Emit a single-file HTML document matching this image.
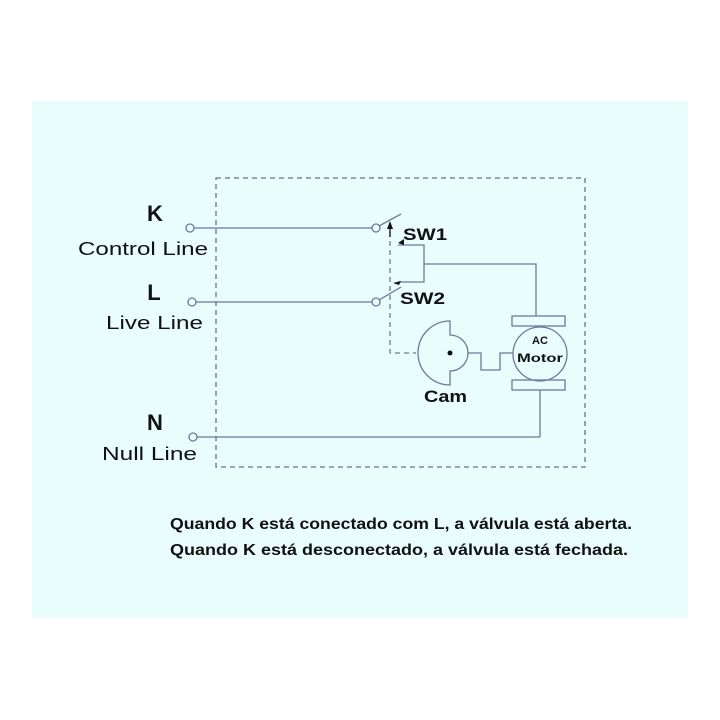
<!DOCTYPE html>
<html><head><style>
body{margin:0;background:#fff;width:720px;height:720px;overflow:hidden}
</style></head><body>
<svg width="720" height="720" xmlns="http://www.w3.org/2000/svg" style="position:absolute;left:0;top:0">
<rect x="32" y="101" width="656" height="517" fill="#e9fdfd"/>
<rect x="216" y="178" width="369" height="289" fill="none" stroke="#6a7090" stroke-width="1.3" stroke-dasharray="5,4"/>
<g stroke="#6a7aa0" stroke-width="1.3" fill="none">
<line x1="194" y1="228" x2="372" y2="228"/>
<circle cx="190" cy="228" r="4" fill="#e9fdfd"/>
<circle cx="376" cy="228" r="4" fill="#e9fdfd"/>
<line x1="379" y1="226" x2="401" y2="214"/>
<line x1="196" y1="302" x2="372" y2="302"/>
<circle cx="192" cy="302" r="4" fill="#e9fdfd"/>
<circle cx="376" cy="302" r="4" fill="#e9fdfd"/>
<line x1="379" y1="300" x2="401" y2="287"/>
<line x1="197" y1="437" x2="540" y2="437"/>
<circle cx="193" cy="437" r="4" fill="#e9fdfd"/>
<line x1="540" y1="390" x2="540" y2="437"/>
<polyline points="398,245 424,245 424,282 398,282"/>
<polyline points="424,264 536,264 536,316"/>
<polyline points="390,232 390,353 416,353" stroke-dasharray="5,4"/>
<rect x="512" y="316" width="53" height="10"/>
<rect x="512" y="380" width="53" height="10"/>
<circle cx="540" cy="354" r="27"/>
<path d="M450,321 A32,32 0 0 0 450,385 L450,371 A18,18 0 0 0 450,335 Z"/>
<polyline points="468,353 481,353 481,370 500,370 500,353 513,353"/>
</g>
<circle cx="450" cy="353" r="2.5" fill="#111"/>
<line x1="390" y1="237" x2="390" y2="226" stroke="#111" stroke-width="1.3"/>
<polygon points="390,221 387,229 393,229" fill="#111"/>
<polygon points="398,243 404,239 404,245" fill="#111"/>
<polygon points="399,285 393,283 401,281" fill="#111"/>
<g font-family="Liberation Sans, sans-serif" fill="#111">
<text x="155" y="221" font-size="22" font-weight="bold" text-anchor="middle">K</text>
<text x="78" y="255" font-size="18" textLength="130" lengthAdjust="spacingAndGlyphs">Control Line</text>
<text x="154" y="300" font-size="22" font-weight="bold" text-anchor="middle">L</text>
<text x="106" y="329" font-size="18" textLength="97" lengthAdjust="spacingAndGlyphs">Live Line</text>
<text x="155" y="430" font-size="22" font-weight="bold" text-anchor="middle">N</text>
<text x="102" y="460" font-size="18" textLength="95" lengthAdjust="spacingAndGlyphs">Null Line</text>
<text x="403" y="240" font-size="17" font-weight="bold" textLength="44" lengthAdjust="spacingAndGlyphs">SW1</text>
<text x="400" y="304" font-size="17" font-weight="bold" textLength="45" lengthAdjust="spacingAndGlyphs">SW2</text>
<text x="424" y="402" font-size="17" font-weight="bold" textLength="43" lengthAdjust="spacingAndGlyphs">Cam</text>
<text x="540" y="344" font-size="11" font-weight="bold" text-anchor="middle">AC</text>
<text x="517" y="362" font-size="12" font-weight="bold" textLength="46" lengthAdjust="spacingAndGlyphs">Motor</text>
<text x="170" y="529" font-size="16" font-weight="bold" textLength="462" lengthAdjust="spacingAndGlyphs">Quando K está conectado com L, a válvula está aberta.</text>
<text x="170" y="555" font-size="16" font-weight="bold" textLength="458" lengthAdjust="spacingAndGlyphs">Quando K está desconectado, a válvula está fechada.</text>
</g>
</svg>
</body></html>
